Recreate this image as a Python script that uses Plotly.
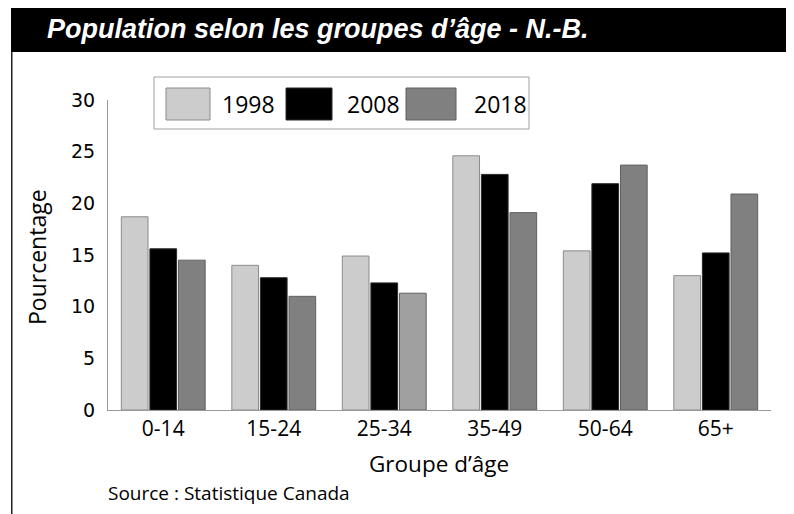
import plotly.graph_objects as go

# ---------------- data ----------------
age_groups = ["0-14", "15-24", "25-34", "35-49", "50-64", "65+"]
years = ["1998", "2008", "2018"]
pct_1998 = [18.7, 14.0, 14.9, 24.6, 15.4, 13.0]
pct_2008 = [15.6, 12.8, 12.3, 22.8, 21.9, 15.2]
pct_2018 = [14.5, 11.0, 11.3, 19.1, 23.7, 20.9]
y_ticks = [0, 5, 10, 15, 20, 25, 30]

title_text = "Population selon les groupes d’âge - N.-B."
x_title = "Groupe d’âge"
y_title = "Pourcentage"
source_text = "Source : Statistique Canada"

# ---------------- style ----------------
OFF = 8                      # page offset of the figure (body margin)
PW, PH = 794, 514            # page size
W, H = PW - OFF, PH - OFF    # figure size
L, R, T, B = 108 - OFF, 23, 100 - OFF, 104
fills = ["#cccccc", "#000000", "#808080"]
lines = ["#8c8c8c", "#2a2a2a", "#606060"]
fill_2018_each = ["#808080", "#808080", "#a0a0a0", "#808080", "#808080", "#808080"]
humanist = "Open Sans, sans-serif"

pw, ph = W - L - R, H - T - B


def px(x):
    # page x -> paper x
    return (x - OFF - L) / pw


def py(y):
    # page y -> paper y
    return (PH - B - y) / ph


series = [pct_1998, pct_2008, pct_2018]
fig = go.Figure()
for i, (name, vals) in enumerate(zip(years, series)):
    color = fill_2018_each if i == 2 else fills[i]
    fig.add_trace(go.Bar(
        x=age_groups, y=vals, name=name, showlegend=False,
        marker=dict(color=color, line=dict(color=lines[i], width=1)),
    ))

shapes = []
annotations = []
# title bar
shapes.append(dict(type="rect", xref="paper", yref="paper", x0=px(11), x1=px(800),
                   y0=py(52), y1=py(0), fillcolor="#000000", line=dict(width=0), layer="below"))
# left frame line
shapes.append(dict(type="line", xref="paper", yref="paper", x0=px(11.8), x1=px(11.8),
                   y0=py(52), y1=py(520), line=dict(color="#000000", width=1.3)))
annotations.append(dict(text="<b><i>" + title_text + "</i></b>", xref="paper", yref="paper",
                        x=px(45), y=py(29), xanchor="left", yanchor="middle", showarrow=False,
                        font=dict(family="Liberation Sans, Arial, sans-serif", size=27,
                                  color="#ffffff")))

# custom legend
shapes.append(dict(type="rect", xref="paper", yref="paper", x0=px(154), x1=px(529),
                   y0=py(129), y1=py(77), line=dict(color="#a0a0a0", width=1), fillcolor="#ffffff"))
sw = [(166, 210), (286, 332), (406, 456)]
tx = [220, 345, 472]
for i, name in enumerate(years):
    shapes.append(dict(type="rect", xref="paper", yref="paper", x0=px(sw[i][0]), x1=px(sw[i][1]),
                       y0=py(120), y1=py(88), fillcolor=fills[i],
                       line=dict(color=lines[i], width=1)))
    annotations.append(dict(text=name, xref="paper", yref="paper", x=px(tx[i]), y=py(104),
                            xanchor="left", yanchor="middle", showarrow=False,
                            font=dict(family=humanist, size=23, color="#000000")))

annotations.append(dict(text=y_title, xref="paper", yref="paper", x=px(37), y=py(257),
                        xanchor="center", yanchor="middle", textangle=-90, showarrow=False,
                        font=dict(family=humanist, size=23, color="#000000")))
annotations.append(dict(text=x_title, xref="paper", yref="paper", x=px(439), y=py(463),
                        xanchor="center", yanchor="middle", showarrow=False,
                        font=dict(family=humanist, size=22.5, color="#000000")))
annotations.append(dict(text=source_text, xref="paper", yref="paper", x=px(106), y=py(493),
                        xanchor="left", yanchor="middle", showarrow=False,
                        font=dict(family=humanist, size=19, color="#000000")))

fig.update_layout(
    width=W, height=H,
    margin=dict(l=L, r=R, t=T, b=B, pad=0),
    paper_bgcolor="#ffffff", plot_bgcolor="#ffffff",
    barmode="group", bargap=0.224, bargroupgap=0.066,
    shapes=shapes, annotations=annotations,
    xaxis=dict(showgrid=False, showline=True, linecolor="#9a9a9a", linewidth=1,
               ticks="", tickfont=dict(family=humanist, size=21, color="#000000")),
    yaxis=dict(range=[0, 30], tickvals=y_ticks, showgrid=False, zeroline=False,
               showline=True, linecolor="#9a9a9a", linewidth=1, ticks="",
               ticklabelstandoff=8,
               tickfont=dict(family="DejaVu Sans, sans-serif", size=19, color="#000000")),
)

fig.write_html("out.html")
